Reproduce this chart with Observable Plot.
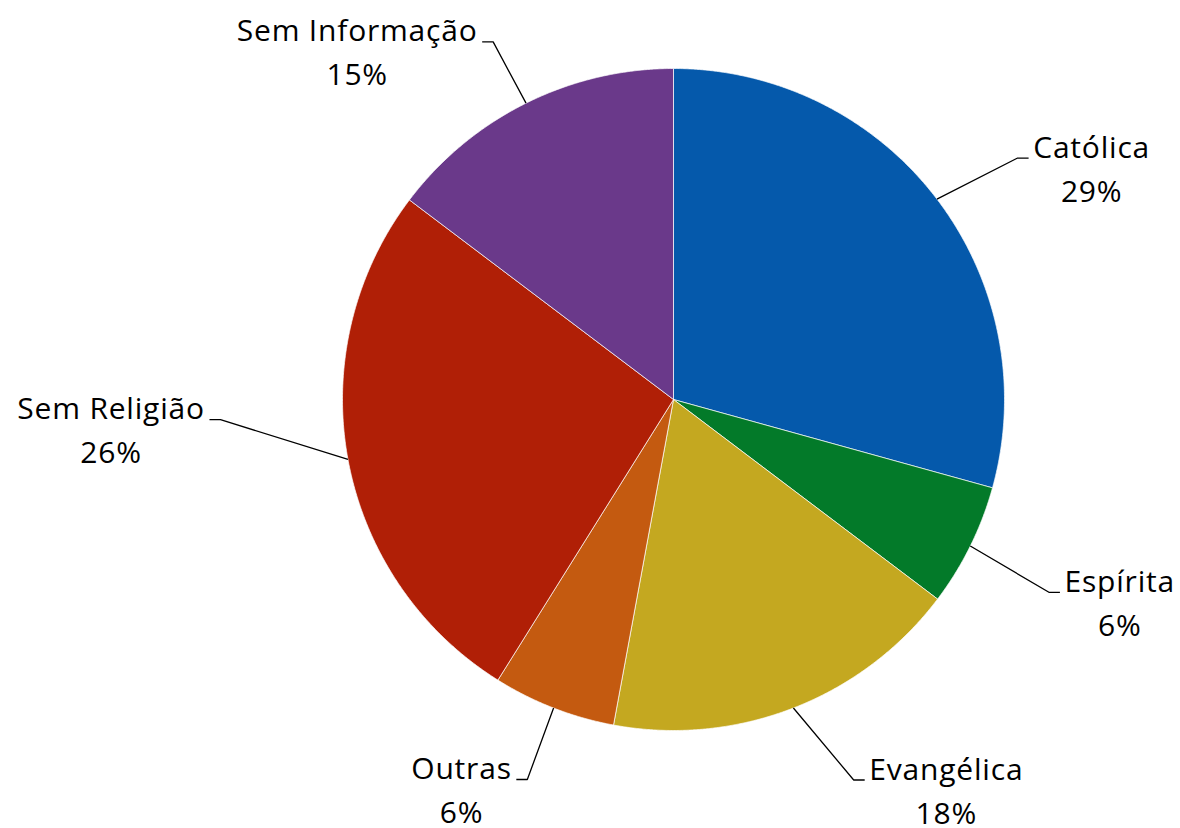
<!DOCTYPE html>
<html><head><meta charset="utf-8">
<script src="https://cdn.jsdelivr.net/npm/d3@7"></script>
<script src="https://cdn.jsdelivr.net/npm/@observablehq/plot@0.6"></script>
<style>html,body{margin:0;padding:0;background:#fff}</style>
</head><body><div id="chart"></div>
<script>
// ---- data ----
const categories = ["Católica", "Espírita", "Evangélica", "Outras", "Sem Religião", "Sem Informação"];
const shares = [29.3, 6.0, 17.6, 6.0, 26.4, 14.7];
const percentLabels = ["29%", "6%", "18%", "6%", "26%", "15%"];
const colors = ["#0559AB", "#037A29", "#C4A820", "#C45A10", "#B01F06", "#6A398A"];
// ---- label layout (angle shift in degrees, radius factor) ----
const labelAngleShift = [2.2, 0.9, -4.1, -0.2, 7.9, -0.3];
const labelRadius = [1.27, 1.275, 1.272, 1.23, 1.37, 1.21];

const W = 1180, H = 828, CX = 673, CY = 399, R = 331;
const FS = 30, LS = 0.8, LINE = 44, FONT = "'Open Sans', 'Noto Sans', sans-serif";

const total = d3.sum(shares);
const rad = d => d * Math.PI / 180;
const polar = (deg, r) => [r * Math.sin(rad(deg)), r * Math.cos(rad(deg))];
let acc = 0;
const slices = categories.map((c, i) => {
  const a0 = acc / total * 360; acc += shares[i]; const a1 = acc / total * 360;
  return {c, i, a0, a1, mid: (a0 + a1) / 2};
});

const piePts = [];
for (const s of slices) {
  piePts.push({c: s.c, x: 0, y: 0});
  const n = Math.ceil((s.a1 - s.a0) / 0.25);
  for (let k = 0; k <= n; k++) {
    const [x, y] = polar(s.a0 + (s.a1 - s.a0) * k / n, R);
    piePts.push({c: s.c, x, y});
  }
  piePts.push({c: s.c, x: 0, y: 0});
}

const ctx = document.createElement("canvas").getContext("2d");
ctx.font = `${FS}px ${FONT}`;
const textWidth = t => ctx.measureText(t).width + LS * (t.length - 1);

const leaderPts = [];
const texts = [];
for (const s of slices) {
  const [ax, ay] = polar(s.mid, R);
  const [ex, ey] = polar(s.mid + labelAngleShift[s.i], R * labelRadius[s.i]);
  const right = ex >= 0;
  const endX = ex + (right ? 11 : -11);
  leaderPts.push({c: s.c, x: ax, y: ay}, {c: s.c, x: ex, y: ey}, {c: s.c, x: endX, y: ey});
  const w = textWidth(s.c);
  const cx = right ? endX + 5 + w / 2 : endX - 5 - w / 2;
  texts.push({t: s.c, x: cx, y: ey + 0.5});
  texts.push({t: percentLabels[s.i], x: cx, y: ey + 0.5 - LINE});
}

const chart = Plot.plot({
  width: W, height: H,
  margin: 0,
  style: {background: "#fff", fontFamily: FONT},
  x: {type: "linear", domain: [-CX, W - CX], range: [0, W], axis: null},
  y: {type: "linear", domain: [-(H - CY), CY], range: [H, 0], axis: null},
  color: {domain: categories, range: colors},
  marks: [
    Plot.line(piePts, {x: "x", y: "y", z: "c", fill: "c", stroke: "#fff", strokeWidth: 0.7, strokeLinejoin: "miter", curve: "linear"}),
    Plot.line(leaderPts, {x: "x", y: "y", z: "c", stroke: "#000", strokeWidth: 1.3, strokeLinejoin: "miter", strokeLinecap: "butt"}),
    Plot.text(texts, {x: "x", y: "y", text: "t", fontSize: FS, fill: "#000", textAnchor: "middle", lineAnchor: "bottom", fontFamily: FONT, letterSpacing: LS})
  ]
});
chart.querySelectorAll("text").forEach(t => t.style.letterSpacing = LS + "px");
document.getElementById("chart").appendChild(chart);
</script>
</body></html>
